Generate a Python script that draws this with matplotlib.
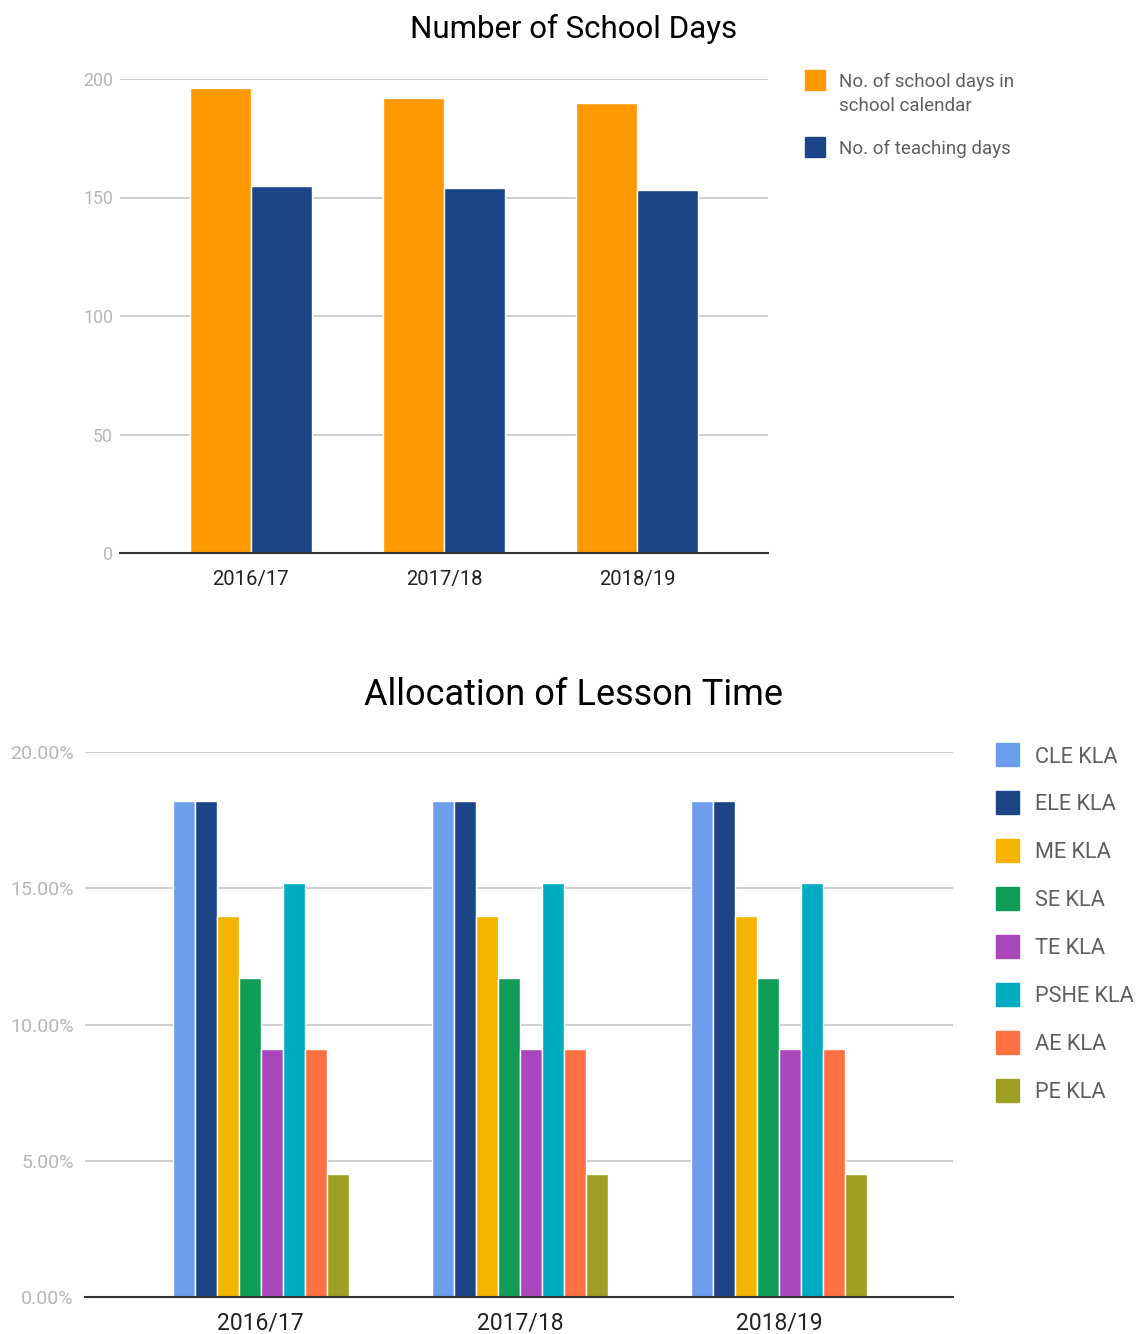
import matplotlib
matplotlib.use("Agg")
import matplotlib.pyplot as plt
from matplotlib.patches import Rectangle
import numpy as np

plt.rcParams["font.family"] = ["Roboto", "DejaVu Sans"]

# ---- data: school days ----
years = ["2016/17", "2017/18", "2018/19"]
school_calendar_days = [196, 192, 190]
teaching_days = [155, 154, 153]
days_labels = ["No. of school days in\nschool calendar", "No. of teaching days"]
days_colors = ["#ff9900", "#1c4587"]

# ---- data: lesson time (%) ----
kla_names = ["CLE KLA", "ELE KLA", "ME KLA", "SE KLA", "TE KLA", "PSHE KLA", "AE KLA", "PE KLA"]
kla_colors = ["#6d9eeb", "#1c4587", "#f4b400", "#0f9d58", "#ab47bc", "#00acc1", "#ff7043", "#9e9d24"]
kla_pct = [18.2, 18.2, 14.0, 11.7, 9.1, 15.2, 9.1, 4.5]
lesson_time = {yr: kla_pct for yr in years}

W, H = 1138, 1334
fig = plt.figure(figsize=(W / 100, H / 100), dpi=100)


def px_axes(l, t, r, b):
    return fig.add_axes([l / W, 1 - b / H, (r - l) / W, (b - t) / H])


def style_axes(ax, ytick_pad, ytick_size, xtick_size, xtick_pad):
    for s in ["left", "right", "top"]:
        ax.spines[s].set_visible(False)
    ax.spines["bottom"].set_color("#333333")
    ax.spines["bottom"].set_linewidth(1.5)
    ax.yaxis.grid(True, color="#cccccc", linewidth=1.3)
    ax.set_axisbelow(True)
    ax.tick_params(axis="y", length=0, pad=ytick_pad, labelsize=ytick_size, labelcolor="#b7b7b7")
    ax.tick_params(axis="x", length=0, pad=xtick_pad, labelsize=xtick_size, labelcolor="#222222")


# -----------------------------
# Number of School Days
# -----------------------------
ax1 = px_axes(120, 79, 768, 553)
x = np.arange(len(years))
bw = 0.315
ax1.bar(x - bw / 2, school_calendar_days, bw, color=days_colors[0], edgecolor="white", linewidth=1)
ax1.bar(x + bw / 2, teaching_days, bw, color=days_colors[1], edgecolor="white", linewidth=1)
ax1.set_ylim(0, 200)
ax1.set_yticks([0, 50, 100, 150, 200])
ax1.set_xlim(-0.677, 2.677)
ax1.set_xticks(x)
ax1.set_xticklabels(years)
style_axes(ax1, 5, 12.8, 14.6, 12)
fig.text(574 / W, 1 - 28.5 / H, "Number of School Days", ha="center", va="center",
         fontsize=22.5, color="#000000")

# legend
leg_y = [80, 147]
for lab, col, yc in zip(days_labels, days_colors, leg_y):
    fig.patches.append(Rectangle((805 / W, 1 - (yc + 10) / H), 20 / W, 20 / H,
                                 transform=fig.transFigure, color=col))
    fig.text(839 / W, 1 - (yc - 7) / H, lab, ha="left", va="top", fontsize=13.5,
             color="#5f5f5f", linespacing=1.4)

# -----------------------------
# Allocation of Lesson Time
# -----------------------------
ax2 = px_axes(85, 752, 953, 1297)
step = 0.0848
n = len(kla_names)
for i, (name, col) in enumerate(zip(kla_names, kla_colors)):
    vals = [lesson_time[yr][i] for yr in years]
    ax2.bar(x + (i - (n - 1) / 2) * step, vals, step, color=col, edgecolor="white", linewidth=1)
ax2.set_ylim(0, 20)
ax2.set_yticks([0, 5, 10, 15, 20])
ax2.set_yticklabels([f"{v:.2f}%" for v in [0, 5, 10, 15, 20]])
ax2.set_xlim(-0.678, 2.67)
ax2.set_xticks(x)
ax2.set_xticklabels(years)
style_axes(ax2, 8, 14, 16.5, 10.5)
fig.text(574 / W, 1 - 694.5 / H, "Allocation of Lesson Time", ha="center", va="center",
         fontsize=26, color="#000000")

for i, (name, col) in enumerate(zip(kla_names, kla_colors)):
    yc = 754 + 48 * i
    fig.patches.append(Rectangle((996 / W, 1 - (yc + 11.5) / H), 23 / W, 23 / H,
                                 transform=fig.transFigure, color=col))
    fig.text(1035 / W, 1 - (yc + 3) / H, name, ha="left", va="center", fontsize=15.7, color="#5f5f5f")

fig.savefig("out.png", dpi=100)
